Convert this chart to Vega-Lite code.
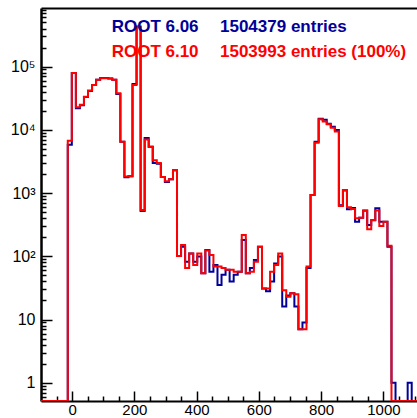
{
  "$schema": "https://vega.github.io/schema/vega-lite/v6.json",
  "width": 376,
  "height": 393,
  "autosize": "none",
  "padding": {"left": 41, "top": 8, "right": 0, "bottom": 17},
  "background": "white",
  "config": {
    "view": {"stroke": null},
    "axis": {"labelFont": "Liberation Sans", "grid": false, "labelColor": "black", "tickColor": "black", "domainColor": "black", "title": null}
  },
  "datasets": {
    "h606": [
      {"x": -100, "n": 0}, {"x": -14, "n": 5800}, {"x": -1, "n": 79000}, {"x": 12, "n": 22000}, {"x": 25, "n": 24500},
      {"x": 38, "n": 33000}, {"x": 51, "n": 41000}, {"x": 64, "n": 51000}, {"x": 77, "n": 61700}, {"x": 90, "n": 66000},
      {"x": 103, "n": 66000}, {"x": 116, "n": 65000}, {"x": 129, "n": 62000}, {"x": 142, "n": 37000}, {"x": 155, "n": 6500},
      {"x": 168, "n": 1780}, {"x": 181, "n": 1850}, {"x": 194, "n": 53000}, {"x": 207, "n": 430000}, {"x": 220, "n": 520},
      {"x": 233, "n": 7400}, {"x": 246, "n": 5400}, {"x": 259, "n": 3000}, {"x": 272, "n": 2900}, {"x": 285, "n": 1800},
      {"x": 298, "n": 1500}, {"x": 311, "n": 1650}, {"x": 324, "n": 2300}, {"x": 337, "n": 101}, {"x": 350, "n": 142},
      {"x": 363, "n": 82}, {"x": 376, "n": 111}, {"x": 389, "n": 82}, {"x": 402, "n": 99}, {"x": 415, "n": 54},
      {"x": 428, "n": 126}, {"x": 441, "n": 57}, {"x": 454, "n": 73}, {"x": 467, "n": 35}, {"x": 480, "n": 51},
      {"x": 493, "n": 61}, {"x": 506, "n": 40}, {"x": 519, "n": 51}, {"x": 532, "n": 57}, {"x": 545, "n": 181},
      {"x": 558, "n": 54}, {"x": 571, "n": 65}, {"x": 584, "n": 87}, {"x": 597, "n": 142}, {"x": 610, "n": 31},
      {"x": 623, "n": 28}, {"x": 636, "n": 40}, {"x": 649, "n": 77}, {"x": 662, "n": 99}, {"x": 675, "n": 16},
      {"x": 688, "n": 24}, {"x": 701, "n": 26}, {"x": 714, "n": 16}, {"x": 727, "n": 7}, {"x": 740, "n": 9},
      {"x": 753, "n": 65}, {"x": 766, "n": 934}, {"x": 779, "n": 6500}, {"x": 792, "n": 15000}, {"x": 805, "n": 14400},
      {"x": 818, "n": 12500}, {"x": 831, "n": 11200}, {"x": 844, "n": 9900}, {"x": 857, "n": 640}, {"x": 870, "n": 1100},
      {"x": 883, "n": 555}, {"x": 896, "n": 580}, {"x": 909, "n": 353}, {"x": 922, "n": 405}, {"x": 935, "n": 531},
      {"x": 948, "n": 313}, {"x": 961, "n": 370}, {"x": 974, "n": 575}, {"x": 987, "n": 353}, {"x": 1000, "n": 353},
      {"x": 1013, "n": 142}, {"x": 1026, "n": 1}, {"x": 1039, "n": 0}, {"x": 1078, "n": 1}, {"x": 1091, "n": 0},
      {"x": 1108, "n": 0}
    ],
    "h610": [
      {"x": -100, "n": 0}, {"x": -14, "n": 6700}, {"x": -1, "n": 79000}, {"x": 12, "n": 22800}, {"x": 25, "n": 25000},
      {"x": 38, "n": 33500}, {"x": 51, "n": 41700}, {"x": 64, "n": 51300}, {"x": 77, "n": 61700}, {"x": 90, "n": 65600},
      {"x": 103, "n": 65600}, {"x": 116, "n": 65000}, {"x": 129, "n": 62000}, {"x": 142, "n": 38000}, {"x": 155, "n": 6500},
      {"x": 168, "n": 1820}, {"x": 181, "n": 1850}, {"x": 194, "n": 51000}, {"x": 207, "n": 420000}, {"x": 220, "n": 540},
      {"x": 233, "n": 7000}, {"x": 246, "n": 5400}, {"x": 259, "n": 3300}, {"x": 272, "n": 3000}, {"x": 285, "n": 1800},
      {"x": 298, "n": 1530}, {"x": 311, "n": 1650}, {"x": 324, "n": 2300}, {"x": 337, "n": 101}, {"x": 350, "n": 151},
      {"x": 363, "n": 65}, {"x": 376, "n": 111}, {"x": 389, "n": 73}, {"x": 402, "n": 111}, {"x": 415, "n": 54},
      {"x": 428, "n": 123}, {"x": 441, "n": 105}, {"x": 454, "n": 69}, {"x": 467, "n": 69}, {"x": 480, "n": 65},
      {"x": 493, "n": 61}, {"x": 506, "n": 61}, {"x": 519, "n": 57}, {"x": 532, "n": 57}, {"x": 545, "n": 217},
      {"x": 558, "n": 54}, {"x": 571, "n": 57}, {"x": 584, "n": 82}, {"x": 597, "n": 142}, {"x": 610, "n": 31},
      {"x": 623, "n": 31}, {"x": 636, "n": 57}, {"x": 649, "n": 73}, {"x": 662, "n": 111}, {"x": 675, "n": 29},
      {"x": 688, "n": 23}, {"x": 701, "n": 26}, {"x": 714, "n": 25}, {"x": 727, "n": 7}, {"x": 740, "n": 7},
      {"x": 753, "n": 69}, {"x": 766, "n": 934}, {"x": 779, "n": 6270}, {"x": 792, "n": 14700}, {"x": 805, "n": 13500},
      {"x": 818, "n": 12250}, {"x": 831, "n": 10800}, {"x": 844, "n": 9370}, {"x": 857, "n": 625}, {"x": 870, "n": 1120},
      {"x": 883, "n": 596}, {"x": 896, "n": 560}, {"x": 909, "n": 398}, {"x": 922, "n": 405}, {"x": 935, "n": 527},
      {"x": 948, "n": 267}, {"x": 961, "n": 375}, {"x": 974, "n": 531}, {"x": 987, "n": 301}, {"x": 1000, "n": 353},
      {"x": 1013, "n": 147}, {"x": 1026, "n": 0}, {"x": 1108, "n": 0}
    ],
    "labels": [
      {"x": 127, "y": 356500, "t": "ROOT 6.06", "s": "6.06"},
      {"x": 475, "y": 356500, "t": "1504379 entries", "s": "6.06"},
      {"x": 127, "y": 140300, "t": "ROOT 6.10", "s": "6.10"},
      {"x": 475, "y": 140300, "t": "1503993 entries (100%)", "s": "6.10"}
    ]
  },
  "resolve": {"axis": {"x": "independent", "y": "independent"}},
  "layer": [
    {
      "data": {"name": "h606"},
      "mark": {"type": "line", "interpolate": "step-after", "color": "#000099", "strokeWidth": 2, "clip": true},
      "encoding": {
        "x": {"field": "x", "type": "quantitative", "scale": {"domain": [-100, 1108], "nice": false, "zero": false},
          "axis": {"orient": "bottom", "values": [0, 200, 400, 600, 800, 1000], "format": "d", "tickSize": -10, "tickWidth": 1.5, "domainWidth": 2, "labelFontSize": 15, "labelBaseline": "alphabetic", "labelPadding": 23.5, "labelFlush": false, "labelOverlap": false}},
        "y": {"field": "n", "type": "quantitative", "scale": {"type": "log", "domain": [0.514, 845000], "nice": false, "clamp": true},
          "axis": {"orient": "left", "values": [1, 10, 100, 1000, 10000, 100000], "tickSize": -11, "tickWidth": 1.5, "domainWidth": 2.5, "labelFontSize": 16, "labelPadding": 17, "labelOverlap": false,
            "labelExpr": "datum.value < 5 ? '1' : datum.value < 50 ? '10' : datum.value < 500 ? '10²' : datum.value < 5000 ? '10³' : datum.value < 50000 ? '10⁴' : '10⁵'"}}
      }
    },
    {
      "data": {"name": "h610"},
      "mark": {"type": "line", "interpolate": "step-after", "color": "#ff0000", "strokeWidth": 2, "clip": true},
      "encoding": {
        "x": {"field": "x", "type": "quantitative",
          "axis": {"orient": "bottom", "values": [-50, 50, 100, 150, 250, 300, 350, 450, 500, 550, 650, 700, 750, 850, 900, 950, 1050, 1100], "tickSize": -5, "tickWidth": 1.5, "labels": false, "domain": false}},
        "y": {"field": "n", "type": "quantitative",
          "axis": {"orient": "left", "values": [0.6, 0.7, 0.8, 0.9, 2, 3, 4, 5, 6, 7, 8, 9, 20, 30, 40, 50, 60, 70, 80, 90, 200, 300, 400, 500, 600, 700, 800, 900, 2000, 3000, 4000, 5000, 6000, 7000, 8000, 9000, 20000, 30000, 40000, 50000, 60000, 70000, 80000, 90000, 200000, 300000, 400000, 500000, 600000, 700000, 800000], "tickSize": -5, "tickWidth": 1.5, "labels": false, "domain": false}}
      }
    },
    {
      "data": {"name": "labels"},
      "mark": {"type": "text", "align": "left", "baseline": "alphabetic", "font": "Liberation Sans", "fontWeight": "bold", "fontSize": 17},
      "encoding": {
        "x": {"field": "x", "type": "quantitative", "axis": {"orient": "top", "ticks": false, "labels": false, "domainWidth": 2}},
        "y": {"field": "y", "type": "quantitative", "axis": null},
        "text": {"field": "t"},
        "color": {"field": "s", "type": "nominal", "scale": {"domain": ["6.06", "6.10"], "range": ["#000099", "#ff0000"]}, "legend": null}
      }
    }
  ]
}
